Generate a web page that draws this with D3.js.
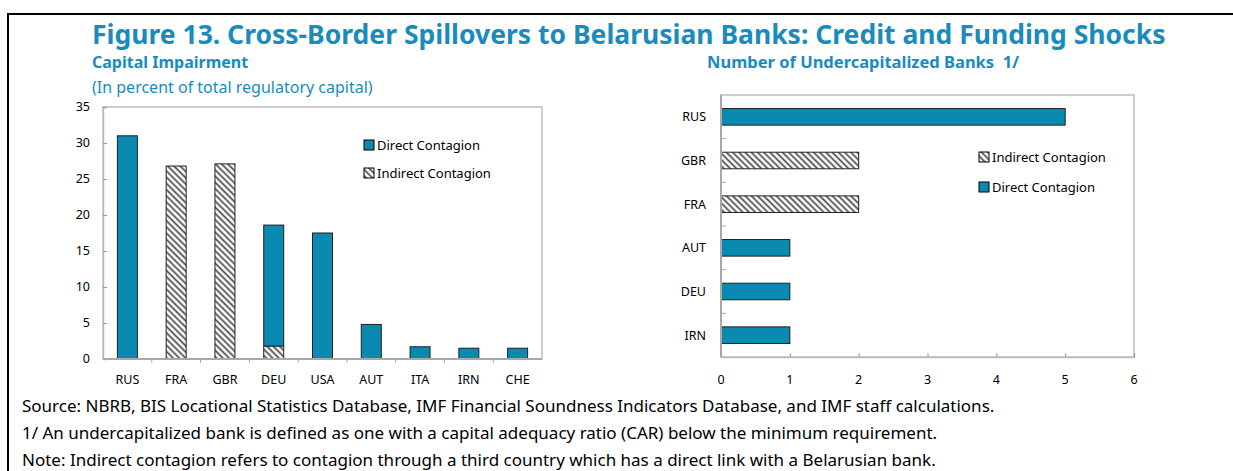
<!DOCTYPE html>
<html>
<head>
<meta charset="utf-8">
<script src="https://cdn.jsdelivr.net/npm/d3@7"></script>
<style>
  body { margin: 0; background: #fff; }
  svg text { font-family: "Noto Sans", "Open Sans", sans-serif; }
</style>
</head>
<body>
<svg id="chart" width="1233" height="471"></svg>
<script>
"use strict";

// left panel: capital impairment, in percent of regulatory capital
var impairCats = ["RUS", "FRA", "GBR", "DEU", "USA", "AUT", "ITA", "IRN", "CHE"];
var impairDirect = [31.0, 0, 0, 16.8, 17.5, 4.8, 1.7, 1.5, 1.5];
var impairIndirect = [0, 26.8, 27.1, 1.8, 0, 0, 0, 0, 0];
var impairTicks = [0, 5, 10, 15, 20, 25, 30, 35];

// right panel: number of undercapitalized banks
var bankCats = ["RUS", "GBR", "FRA", "AUT", "DEU", "IRN"];
var bankDirect = [5, 0, 0, 1, 1, 1];
var bankIndirect = [0, 2, 2, 0, 0, 0];
var bankTicks = [0, 1, 2, 3, 4, 5, 6];

var footnotes = [
  "Source: NBRB, BIS Locational Statistics Database, IMF Financial Soundness Indicators Database, and IMF staff calculations.",
  "1/ An undercapitalized bank is defined as one with a capital adequacy ratio (CAR) below the minimum requirement.",
  "Note: Indirect contagion refers to contagion through a third country which has a direct link with a Belarusian bank."
];

var teal = "#0a89b1";
var titleBlue = "#1a8bbd";
var gridGray = "#bdbdbd";

var svg = d3.select("#chart");

// hatch pattern for indirect contagion
var defs = svg.append("defs");
var pat = defs.append("pattern")
    .attr("id", "hatch")
    .attr("patternUnits", "userSpaceOnUse")
    .attr("width", 4.4)
    .attr("height", 4.4)
    .attr("patternTransform", "rotate(-45)");
pat.append("rect").attr("width", 4.4).attr("height", 4.4).attr("fill", "#fff");
pat.append("line")
    .attr("x1", 1.2).attr("y1", 0).attr("x2", 1.2).attr("y2", 4.4)
    .attr("stroke", "#4a4a4a").attr("stroke-width", 1.7);

// frame
svg.append("line").attr("x1", 7).attr("x2", 1233).attr("y1", 14).attr("y2", 14)
    .attr("stroke", "#000").attr("stroke-width", 2);
svg.append("line").attr("x1", 8).attr("x2", 8).attr("y1", 13).attr("y2", 471)
    .attr("stroke", "#000").attr("stroke-width", 2);

// titles
svg.append("text").attr("x", 92).attr("y", 44)
    .attr("fill", titleBlue).style("font-weight", "bold").style("font-size", "26.5px")
    .text("Figure 13. Cross-Border Spillovers to Belarusian Banks: Credit and Funding Shocks");
svg.append("text").attr("x", 92).attr("y", 68)
    .attr("fill", titleBlue).style("font-weight", "bold").style("font-size", "16px")
    .text("Capital Impairment");
svg.append("text").attr("x", 92).attr("y", 93)
    .attr("fill", titleBlue).style("font-size", "16px")
    .text("(In percent of total regulatory capital)");
svg.append("text").attr("x", 707).attr("y", 68)
    .attr("fill", titleBlue).style("font-weight", "bold").style("font-size", "16.5px")
    .style("white-space", "pre")
    .text("Number of Undercapitalized Banks  1/");

// footnotes
svg.selectAll(".foot")
    .data(footnotes)
    .enter()
    .append("text")
    .attr("class", "foot")
    .attr("x", 22)
    .attr("y", function(d, i) { return 412 + i * 27; })
    .attr("fill", "#000")
    .style("font-size", "17px")
    .text(function(d) { return d; });

function legendItem(g, x, y, fill, label) {
  g.append("rect").attr("x", x).attr("y", y - 5).attr("width", 10).attr("height", 10)
      .attr("fill", fill).attr("stroke", "#000").attr("stroke-width", 1);
  g.append("text").attr("x", x + 13).attr("y", y).attr("dy", "0.35em")
      .style("font-size", "13px").attr("fill", "#000").text(label);
}

/* ---------- left panel ---------- */
var L = { x0: 103, x1: 542, y0: 107, y1: 359 };
var left = svg.append("g");

var xL = d3.scaleBand().domain(impairCats).range([L.x0, L.x1])
    .paddingInner(0.59).paddingOuter(0.295);
var yL = d3.scaleLinear().domain([0, 35]).range([L.y1, L.y0]);

left.append("rect").attr("x", L.x0).attr("y", L.y0)
    .attr("width", L.x1 - L.x0).attr("height", L.y1 - L.y0)
    .attr("fill", "none").attr("stroke", gridGray).attr("stroke-width", 1.5);

var stepL = (L.x1 - L.x0) / impairCats.length;

// y axis: ticks pointing inward
var yAxisL = left.append("g").attr("transform", "translate(" + L.x0 + ",0)")
    .call(d3.axisRight(yL).tickValues(impairTicks).tickSize(4).tickFormat(""));
yAxisL.select(".domain").attr("stroke", gridGray).attr("stroke-width", 1.5);
yAxisL.selectAll(".tick line").attr("stroke", "#999");

left.selectAll(".ylab")
    .data(impairTicks)
    .enter()
    .append("text")
    .attr("x", 90)
    .attr("y", function(d) { return yL(d); })
    .attr("dy", "0.35em")
    .attr("text-anchor", "end")
    .style("font-size", "12.5px")
    .attr("fill", "#000")
    .text(function(d) { return d; });

// x axis with ticks between categories
var bounds = d3.range(1, impairCats.length).map(function(i) { return L.x0 + i * stepL; });
left.selectAll(".xtick")
    .data(bounds)
    .enter()
    .append("line")
    .attr("x1", function(d) { return d; }).attr("x2", function(d) { return d; })
    .attr("y1", L.y1).attr("y2", L.y1 + 4)
    .attr("stroke", "#aaa");

left.selectAll(".bar-ind")
    .data(impairCats)
    .enter()
    .filter(function(d, i) { return impairIndirect[i] > 0; })
    .append("rect")
    .attr("x", function(d) { return xL(d); })
    .attr("width", xL.bandwidth())
    .attr("y", function(d) { return yL(impairIndirect[impairCats.indexOf(d)]); })
    .attr("height", function(d) { return yL(0) - yL(impairIndirect[impairCats.indexOf(d)]); })
    .attr("fill", "url(#hatch)")
    .attr("stroke", "#222").attr("stroke-width", 1);

left.selectAll(".bar-dir")
    .data(impairCats)
    .enter()
    .filter(function(d, i) { return impairDirect[i] > 0; })
    .append("rect")
    .attr("x", function(d) { return xL(d); })
    .attr("width", xL.bandwidth())
    .attr("y", function(d) {
      var i = impairCats.indexOf(d);
      return yL(impairIndirect[i] + impairDirect[i]);
    })
    .attr("height", function(d) {
      var i = impairCats.indexOf(d);
      return yL(impairIndirect[i]) - yL(impairIndirect[i] + impairDirect[i]);
    })
    .attr("fill", teal)
    .attr("stroke", "#222").attr("stroke-width", 1);

left.append("line").attr("x1", L.x0).attr("x2", L.x1).attr("y1", L.y1).attr("y2", L.y1)
    .attr("stroke", "#a8a8a8").attr("stroke-width", 2);

left.selectAll(".xlab")
    .data(impairCats)
    .enter()
    .append("text")
    .attr("x", function(d) { return xL(d) + xL.bandwidth() / 2; })
    .attr("y", 380)
    .attr("dy", "0.35em")
    .attr("text-anchor", "middle")
    .style("font-size", "12.5px")
    .attr("fill", "#000")
    .text(function(d) { return d; });

legendItem(left, 364, 145, teal, "Direct Contagion");
legendItem(left, 364, 173, "url(#hatch)", "Indirect Contagion");

/* ---------- right panel ---------- */
var R = { x0: 721, x1: 1134, y0: 95, y1: 357 };
var right = svg.append("g");

var xR = d3.scaleLinear().domain([0, 6]).range([R.x0, R.x1]);
var yR = d3.scaleBand().domain(bankCats).range([R.y0, R.y1])
    .paddingInner(0.62).paddingOuter(0.31);

right.append("rect").attr("x", R.x0).attr("y", R.y0)
    .attr("width", R.x1 - R.x0).attr("height", R.y1 - R.y0)
    .attr("fill", "none").attr("stroke", gridGray).attr("stroke-width", 1.5);

var xAxisR = right.append("g").attr("transform", "translate(0," + R.y1 + ")")
    .call(d3.axisTop(xR).tickValues(bankTicks).tickSize(4).tickFormat(""));
xAxisR.select(".domain").attr("stroke", gridGray).attr("stroke-width", 1.5);
xAxisR.selectAll(".tick line").attr("stroke", "#999");

var stepR = (R.y1 - R.y0) / bankCats.length;
var boundsR = d3.range(1, bankCats.length).map(function(i) { return R.y0 + i * stepR; });
right.selectAll(".ytick")
    .data(boundsR)
    .enter()
    .append("line")
    .attr("x1", R.x0).attr("x2", R.x0 + 5)
    .attr("y1", function(d) { return d; }).attr("y2", function(d) { return d; })
    .attr("stroke", "#aaa");

right.selectAll(".bar")
    .data(bankCats)
    .enter()
    .append("rect")
    .attr("x", xR(0))
    .attr("y", function(d) { return yR(d); })
    .attr("height", yR.bandwidth())
    .attr("width", function(d) {
      var i = bankCats.indexOf(d);
      return xR(bankDirect[i] + bankIndirect[i]) - xR(0);
    })
    .attr("fill", function(d) {
      return bankIndirect[bankCats.indexOf(d)] > 0 ? "url(#hatch)" : teal;
    })
    .attr("stroke", "#222").attr("stroke-width", 1);

right.append("line").attr("x1", R.x0).attr("x2", R.x0).attr("y1", R.y0).attr("y2", R.y1)
    .attr("stroke", "#a8a8a8").attr("stroke-width", 2);

right.selectAll(".ylab")
    .data(bankCats)
    .enter()
    .append("text")
    .attr("x", 706)
    .attr("y", function(d) { return yR(d) + yR.bandwidth() / 2; })
    .attr("dy", "0.35em")
    .attr("text-anchor", "end")
    .style("font-size", "12.5px")
    .attr("fill", "#000")
    .text(function(d) { return d; });

right.selectAll(".xlab")
    .data(bankTicks)
    .enter()
    .append("text")
    .attr("x", function(d) { return xR(d); })
    .attr("y", 380)
    .attr("dy", "0.35em")
    .attr("text-anchor", "middle")
    .style("font-size", "12.5px")
    .attr("fill", "#000")
    .text(function(d) { return d; });

legendItem(right, 979, 157, "url(#hatch)", "Indirect Contagion");
legendItem(right, 979, 187, teal, "Direct Contagion");
</script>
</body>
</html>
